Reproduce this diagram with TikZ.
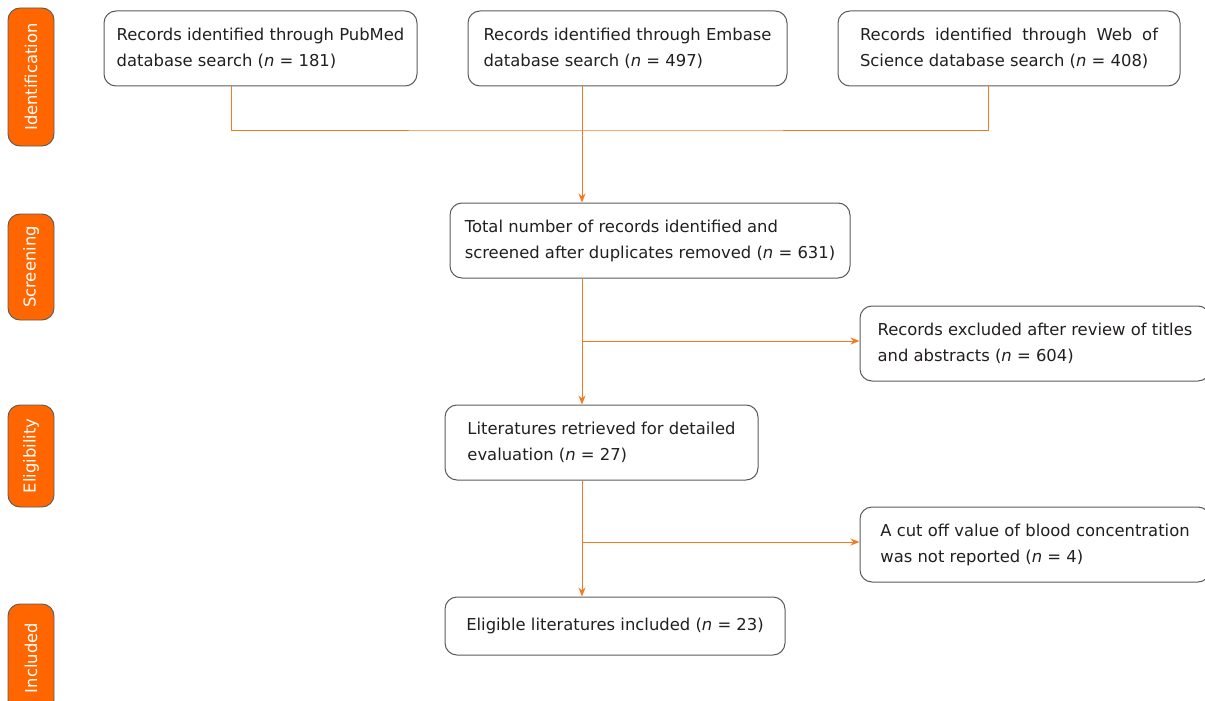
\documentclass[tikz,border=0pt]{standalone}
\usepackage{fontspec}
\setmainfont{DejaVu Sans}
\usepackage{xcolor}
\usetikzlibrary{arrows.meta}
\usetikzlibrary{positioning}

\definecolor{stageorange}{HTML}{FF6600}
\definecolor{flowline}{HTML}{F47A22}
\definecolor{boxline}{HTML}{5A5A5A}
\definecolor{recordtext}{HTML}{231F20}

\begin{document}
\begin{tikzpicture}[x=1pt,y=-1pt,>={Stealth[length=9pt,width=7pt]},
                    font=\fontsize{16.4}{26}\selectfont,
                    record/.style={draw=boxline,line width=1pt,rounded corners=12pt,
                                   text=recordtext,align=left,inner sep=0pt},
                    stage/.style={draw=boxline,line width=0.9pt,fill=stageorange,text=white,
                                  rounded corners=12pt,rotate=90,minimum height=46pt,inner sep=0pt},
                    flow/.style={draw=flowline,line width=1pt}]

    \useasboundingbox (0,0) rectangle (1205,701);

    % stages on the left
    \node[stage, minimum width=138pt] (ident) at (31,77)    {Identification};
    \node[stage, minimum width=106pt] (screen) at (31,267)  {Screening};
    \node[stage, minimum width=102pt] (elig) at (31,456)    {Eligibility};
    \node[stage, minimum width=108pt] (incl) at (31,658)    {Included};

    % records
    \node[record, minimum width=313pt, minimum height=75pt] (pubmed) at (260.5,48.5)
        {Records identified through PubMed\\database search (\textit{n} = 181)};
    \node[record, minimum width=319pt, minimum height=75pt] (embase) at (627.5,48.5)
        {Records identified through Embase\\database search (\textit{n} = 497)};
    \node[record, minimum width=342pt, minimum height=75pt, text width=298pt, align=justify] (wos) at (1009,48.5)
        {Records identified through Web of Science database search (\textit{n} = 408)};
    \node[record, minimum width=400pt, minimum height=75pt] (total) at (650,240.5)
        {Total number of records identified and\\screened after duplicates removed (\textit{n} = 631)};
    \node[record, minimum width=350pt, minimum height=75pt] (excl1) at (1035,343.5)
        {Records excluded after review of titles\\and abstracts (\textit{n} = 604)};
    \node[record, minimum width=313pt, minimum height=75pt] (lit) at (601.5,442.5)
        {Literatures retrieved for detailed\\evaluation (\textit{n} = 27)};
    \node[record, minimum width=350pt, minimum height=75pt] (excl2) at (1035,544.5)
        {A cut off value of blood concentration\\was not reported (\textit{n} = 4)};
    \node[record, minimum width=340pt, minimum height=58pt] (elig2) at (615,626)
        {Eligible literatures included (\textit{n} = 23)};

    % joins
    \coordinate (merge) at (582,130);
    \coordinate (split1) at (582,341);
    \coordinate (split2) at (582,542);

    \draw[flow] (pubmed.south -| 231,0) |- (merge) -| (wos.south -| 988,0);
    \draw[flow,->] (embase.south -| merge) -- (total.north -| merge);
    \draw[flow,->] (total.south -| merge) -- (lit.north -| merge);
    \draw[flow,->] (split1) -- (excl1.west |- split1);
    \draw[flow,->] (lit.south -| merge) -- (elig2.north -| merge);
    \draw[flow,->] (split2) -- (excl2.west |- split2);
\end{tikzpicture}
\end{document}
